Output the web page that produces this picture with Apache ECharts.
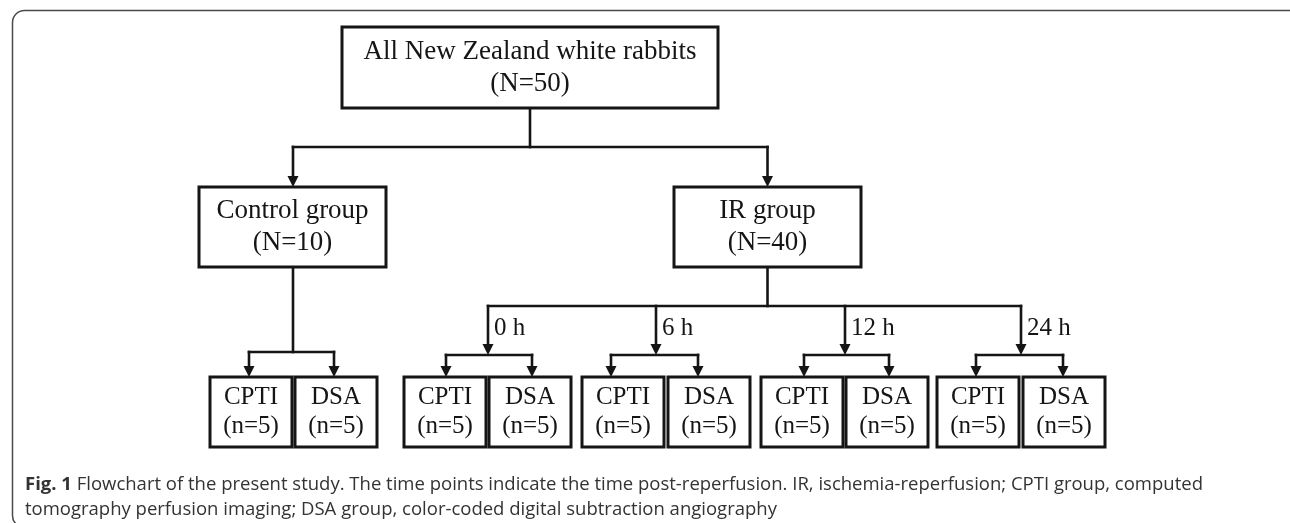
<!DOCTYPE html>
<html>
<head>
<meta charset="utf-8">
<script src="https://cdn.jsdelivr.net/npm/echarts@6/dist/echarts.min.js"></script>
<style>
  html, body { margin: 0; padding: 0; background: #ffffff; }
  #main { width: 1290px; height: 523px; }
</style>
</head>
<body>
<div id="main"></div>
<script>
// text of the flowchart
var topLabel = ['All New Zealand white rabbits', '(N=50)'];
var groupNames = ['Control group', 'IR group'];
var groupCounts = ['(N=10)', '(N=40)'];
var timePoints = ['0 h', '6 h', '12 h', '24 h'];
var armNames = ['CPTI', 'DSA'];
var armCounts = ['(n=5)', '(n=5)'];
var captionBold = 'Fig. 1';
var captionLines = [
  ' Flowchart of the present study. The time points indicate the time post-reperfusion. IR, ischemia-reperfusion; CPTI group, computed',
  'tomography perfusion imaging; DSA group, color-coded digital subtraction angiography'
];

// layout (picture pixels, mapped through the hidden value axes)
var topBox = [342, 27, 718, 108];
var groupBoxes = [[199, 187, 386, 267], [674, 187, 861, 267]];
var branchY = 147;
var timeBusY = 306;
var splitX = [293, 488, 656, 845, 1021];      // control, 0 h, 6 h, 12 h, 24 h
var splitY = [352, 355, 355, 355, 355];
var armLeft = [[210, 295], [404, 489], [582, 668], [761, 846], [937, 1023]];
var armArrowX = [[249, 334], [446, 532], [611, 698], [804, 889], [976, 1063]];
var armW = 82, armTop = 377, armBottom = 447;

var serif = 'Liberation Serif';
var ink = '#151515';

// boxes: [x0, y0, x1, y1, line1, line2, fontSize]
var boxes = [];
boxes.push([topBox[0], topBox[1], topBox[2], topBox[3], topLabel[0], topLabel[1], 27]);
for (var g = 0; g < groupNames.length; g++) {
  var b = groupBoxes[g];
  boxes.push([b[0], b[1], b[2], b[3], groupNames[g], groupCounts[g], 27]);
}
for (var p = 0; p < armLeft.length; p++) {
  for (var a = 0; a < armNames.length; a++) {
    var x0 = armLeft[p][a];
    boxes.push([x0, armTop, x0 + armW, armBottom, armNames[a], armCounts[a], 25]);
  }
}

// connectors: [x1, y1, x2, y2, arrow]
var segs = [];
var topMidX = (topBox[0] + topBox[2]) / 2;
var ctrlX = splitX[0];
var irX = (groupBoxes[1][0] + groupBoxes[1][2]) / 2;
segs.push([topMidX, topBox[3], topMidX, branchY, 0]);
segs.push([ctrlX, branchY, irX, branchY, 0]);
segs.push([ctrlX, branchY, ctrlX, groupBoxes[0][1], 1]);
segs.push([irX, branchY, irX, groupBoxes[1][1], 1]);
segs.push([ctrlX, groupBoxes[0][3], ctrlX, splitY[0], 0]);
segs.push([irX, groupBoxes[1][3], irX, timeBusY, 0]);
segs.push([splitX[1], timeBusY, splitX[4], timeBusY, 0]);
for (var t = 1; t < splitX.length; t++) {
  segs.push([splitX[t], timeBusY, splitX[t], splitY[t], 1]);
}
for (var s = 0; s < armArrowX.length; s++) {
  segs.push([armArrowX[s][0], splitY[s], armArrowX[s][1], splitY[s], 0]);
  segs.push([armArrowX[s][0], splitY[s], armArrowX[s][0], armTop, 1]);
  segs.push([armArrowX[s][1], splitY[s], armArrowX[s][1], armTop, 1]);
}

// time labels: [x, y, index]
var timeLabels = [];
for (var k = 0; k < timePoints.length; k++) {
  timeLabels.push([splitX[k + 1] + 6, 328, k]);
}

function renderBox(params, api) {
  var d = boxes[params.dataIndex];
  var p0 = api.coord([d[0], d[1]]);
  var p1 = api.coord([d[2], d[3]]);
  var cx = (p0[0] + p1[0]) / 2, cy = (p0[1] + p1[1]) / 2;
  var gap = d[6] === 27 ? 16 : 14.5;
  var font = d[6] + 'px "' + serif + '"';
  return {
    type: 'group',
    children: [
      { type: 'rect', shape: { x: p0[0], y: p0[1], width: p1[0] - p0[0], height: p1[1] - p0[1] },
        style: { fill: '#fff', stroke: ink, lineWidth: 3 } },
      { type: 'text', x: cx, y: cy - gap,
        style: { text: d[4], font: font, fill: ink, align: 'center', verticalAlign: 'middle' } },
      { type: 'text', x: cx, y: cy + gap,
        style: { text: d[5], font: font, fill: ink, align: 'center', verticalAlign: 'middle' } }
    ]
  };
}

function renderSeg(params, api) {
  var d = segs[params.dataIndex];
  var p0 = api.coord([d[0], d[1]]);
  var p1 = api.coord([d[2], d[3]]);
  var kids = [];
  var endY = d[4] ? p1[1] - 10 : p1[1];
  kids.push({ type: 'line', shape: { x1: p0[0], y1: p0[1], x2: p1[0], y2: endY },
    style: { stroke: ink, lineWidth: 2.6, lineCap: 'square' } });
  if (d[4]) {
    kids.push({ type: 'polygon',
      shape: { points: [[p1[0] - 5.5, p1[1] - 11], [p1[0] + 5.5, p1[1] - 11], [p1[0], p1[1]]] },
      style: { fill: ink } });
  }
  return { type: 'group', children: kids };
}

function renderTime(params, api) {
  var d = timeLabels[params.dataIndex];
  var p = api.coord([d[0], d[1]]);
  return { type: 'text', x: p[0], y: p[1],
    style: { text: timePoints[d[2]], font: '25px "' + serif + '"', fill: ink, align: 'left', verticalAlign: 'middle' } };
}

var chart = echarts.init(document.getElementById('main'));
var option = {
  backgroundColor: '#ffffff',
  animation: false,
  grid: { left: 0, right: 0, top: 0, bottom: 0 },
  xAxis: { type: 'value', min: 0, max: 1290, show: false },
  yAxis: { type: 'value', min: 0, max: 523, inverse: true, show: false },
  graphic: [{
    type: 'rect', left: 10, top: 8, silent: true,
    shape: { width: 1288, height: 517, r: 12 },
    style: { fill: 'none', stroke: '#4a4a4a', lineWidth: 1.5 }
  }],
  title: {
    text: '{b|' + captionBold + '}' + captionLines[0] + '\n' + captionLines[1],
    left: 20, top: 467,
    textStyle: {
      fontFamily: 'Open Sans', fontSize: 18.5, fontWeight: 'normal', color: '#333333', lineHeight: 25,
      rich: { b: { fontFamily: 'Open Sans', fontSize: 18.5, fontWeight: 'bold', color: '#333333', lineHeight: 25 } }
    }
  },
  series: [
    { type: 'custom', renderItem: renderSeg, data: segs, silent: true, z: 1 },
    { type: 'custom', renderItem: renderBox, data: boxes.map(function (b) { return b.slice(0, 4); }), silent: true, z: 2 },
    { type: 'custom', renderItem: renderTime, data: timeLabels, silent: true, z: 3 }
  ]
};
chart.setOption(option);
</script>
</body>
</html>
